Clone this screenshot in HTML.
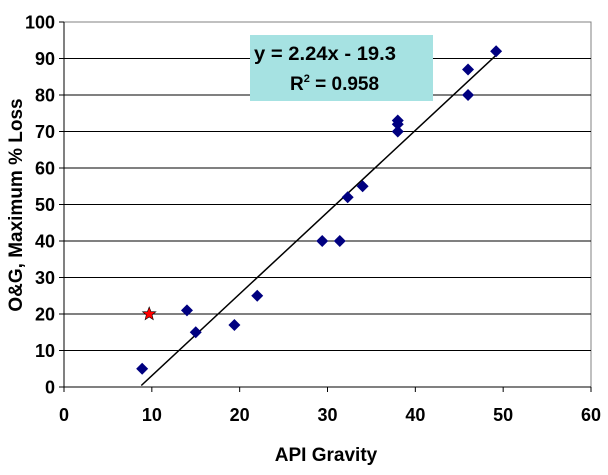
<!DOCTYPE html>
<html><head><meta charset="utf-8"><style>
body{margin:0;background:#fff}
svg text{font-family:"Liberation Sans",Arial,sans-serif;font-weight:bold}
</style></head><body>
<svg id="c" width="608" height="470" xmlns="http://www.w3.org/2000/svg"></svg>
<script>
const apiGravity=[8.9,14,15,19.4,22,29.4,31.4,32.3,34,38,38,38,46,46,49.2];
const maxLoss=[5,21,15,17,25,40,40,52,55,73,72,70,87,80,92];
const outlierX=[9.7];
const outlierY=[20];
const xTicks=[0,10,20,30,40,50,60];
const yTicks=[0,10,20,30,40,50,60,70,80,90,100];
const slope=2.24, intercept=-19.3, trendX=[8.8,49.2];
const NS='http://www.w3.org/2000/svg';
const svg=document.getElementById('c');
const L=64,R=591,T=22,B=387;
const sx=v=>L+(v-0)/60*(R-L);
const sy=v=>B-(v-0)/100*(B-T);
function mk(tag,attrs,parent){const e=document.createElementNS(NS,tag);for(const k in attrs)e.setAttribute(k,attrs[k]);(parent||svg).appendChild(e);return e;}
let b=mk('rect',{x:L,y:T,width:R-L,height:B-T,fill:'#fff',stroke:'#808080','stroke-width':1});


yTicks.forEach(t=>{
  if(t>0&&t<100){let g=mk('line',{x1:L,x2:R,y1:sy(t),y2:sy(t),stroke:'#000','stroke-width':1});
  
  }
  mk('line',{x1:L-5,x2:L,y1:sy(t),y2:sy(t),stroke:'#000'});
  let tx=mk('text',{x:L-9,y:sy(t)+6.5,'text-anchor':'end','font-size':18});tx.textContent=t;
  
  
});
xTicks.forEach(t=>{
  mk('line',{x1:sx(t),x2:sx(t),y1:B,y2:B+5,stroke:'#000'});
  let tx=mk('text',{x:sx(t),y:B+34,'text-anchor':'middle','font-size':18});tx.textContent=t;
  
  
});
mk('line',{x1:L,x2:L,y1:T,y2:B,stroke:'#000'});
mk('line',{x1:L,x2:R,y1:B,y2:B,stroke:'#000'});
let tl=mk('line',{x1:sx(trendX[0]),y1:sy(slope*trendX[0]+intercept),x2:sx(trendX[1]),y2:sy(slope*trendX[1]+intercept),stroke:'#000','stroke-width':1.5});


apiGravity.forEach((x,i)=>{
  const cx=sx(x),cy=sy(maxLoss[i]);
  let p=mk('polygon',{points:`${cx},${cy-6} ${cx+6},${cy} ${cx},${cy+6} ${cx-6},${cy}`,fill:'#000080'});
  
  
});
outlierX.forEach((x,i)=>{
  const cx=sx(x),cy=sy(outlierY[i]);let pts=[];
  for(let k=0;k<10;k++){const r=k%2?3:7,a=-Math.PI/2+k*Math.PI/5;pts.push((cx+r*Math.cos(a)).toFixed(1)+','+(cy+r*Math.sin(a)).toFixed(1));}
  let s=mk('polygon',{points:pts.join(' '),fill:'#ff0000',stroke:'#000','stroke-width':0.6});
  
  
});
let box=mk('rect',{x:250,y:35,width:183,height:66,fill:'#a6e2e2'});


let e1=mk('text',{x:254,y:60,'font-size':19,'textLength':142,'lengthAdjust':'spacingAndGlyphs'});e1.textContent='y = 2.24x - 19.3';


let e2=mk('text',{x:290,y:90,'font-size':19});e2.innerHTML='R<tspan dy="-8" font-size="11">2</tspan><tspan dy="8"> = 0.958</tspan>';


let xt=mk('text',{x:326,y:461,'text-anchor':'middle','font-size':19});xt.textContent='API Gravity';


let yt=mk('text',{x:0,y:0,'text-anchor':'middle','font-size':19,transform:'translate(22,205) rotate(-90)'});yt.textContent='O&G, Maximum % Loss';


</script>
</body></html>
